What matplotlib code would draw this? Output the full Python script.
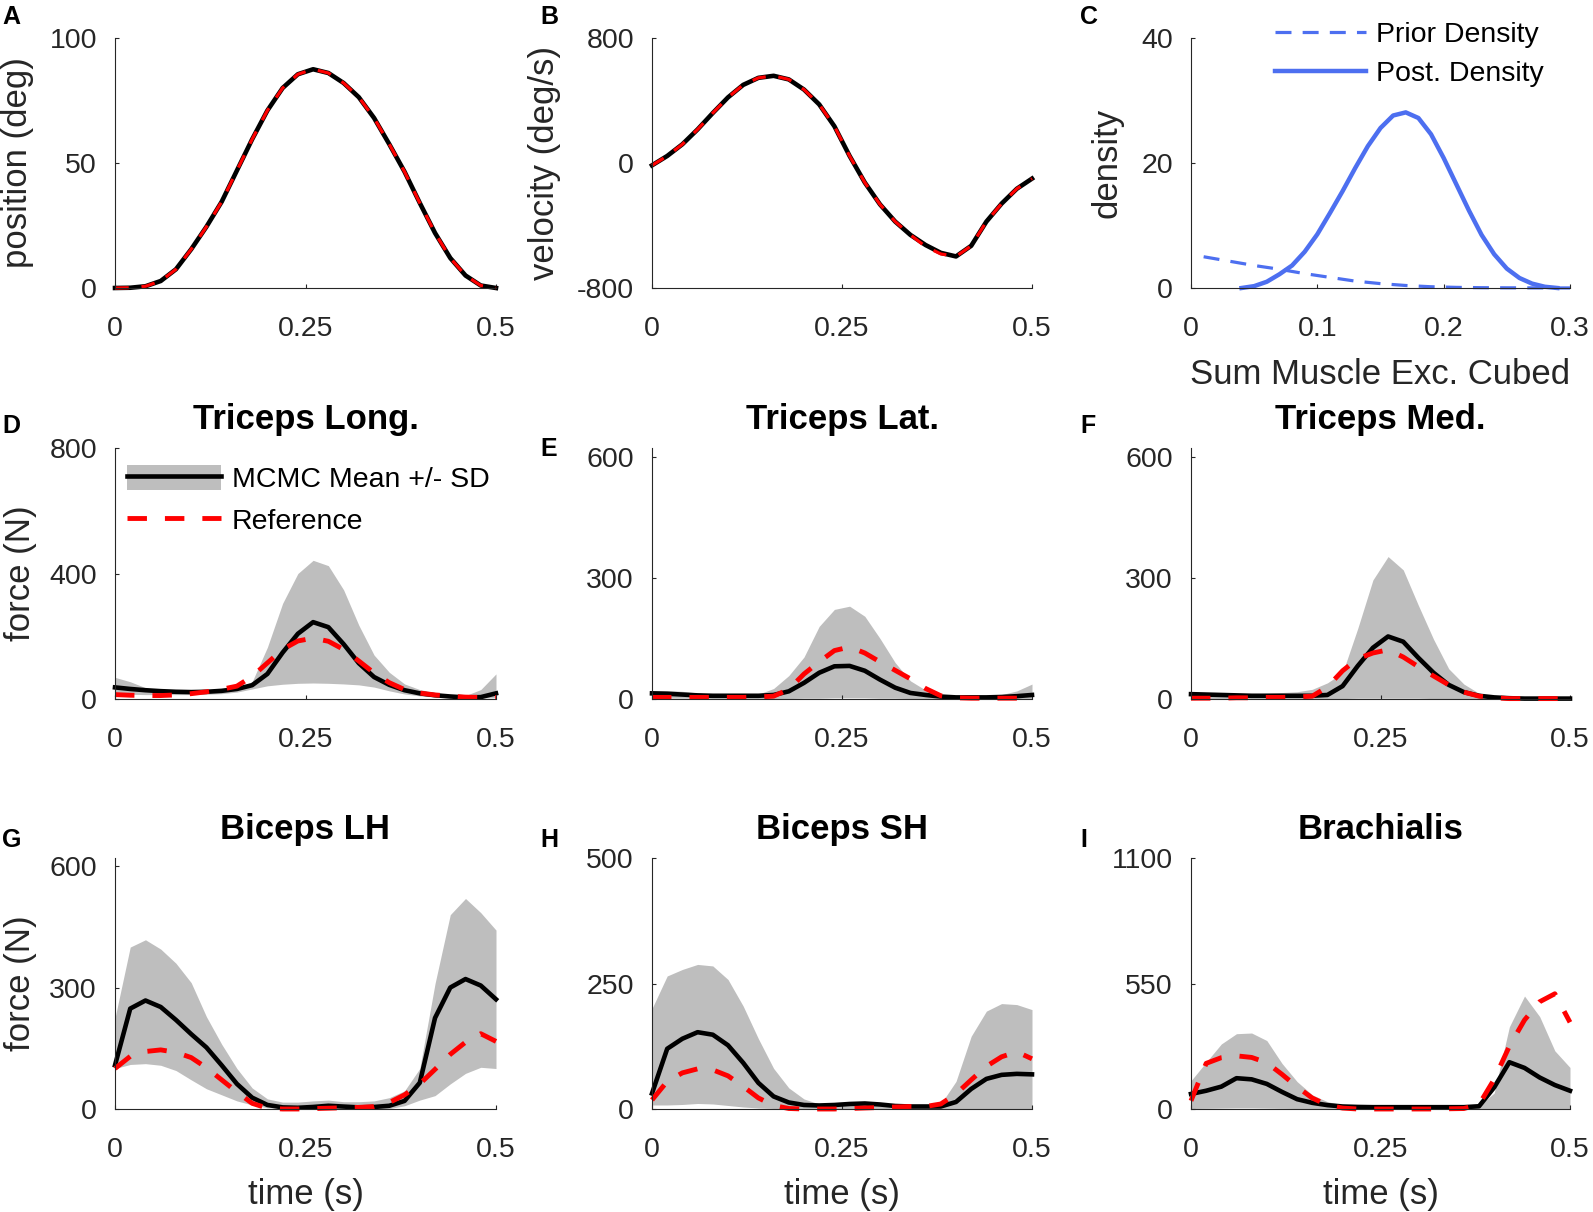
#!/usr/bin/env python3
"""
Recreates the MCMC muscle force figure: elbow kinematics, objective density
and the estimated muscle forces against the reference solution.
"""

import matplotlib
matplotlib.use("Agg")
import matplotlib.pyplot as plt
from matplotlib import ticker
from matplotlib.lines import Line2D
from matplotlib.patches import Patch
from matplotlib.legend_handler import HandlerTuple

# time samples shared by every time-series panel (s)
time_s = [0.00, 0.02, 0.04, 0.06, 0.08, 0.10, 0.12, 0.14, 0.16, 0.18, 0.20, 0.22, 0.24,
          0.26, 0.28, 0.30, 0.32, 0.34, 0.36, 0.38, 0.40, 0.42, 0.44, 0.46, 0.48, 0.50]

# A: position (deg)
position_mcmc = [0, 0.1, 0.7, 2.8, 7.5, 15.5, 24.5, 34.5, 47, 59.5, 71, 80, 85.5,
                 87.5, 86, 82, 76.3, 68, 57.5, 46.5, 34, 22, 12, 5, 1, 0]
position_ref = [0, 0.1, 0.7, 2.8, 7.5, 15.5, 24.5, 34.5, 47, 59.5, 71, 80, 85.5,
                87.5, 86, 82, 76.3, 68, 57.5, 46.5, 34, 22, 12, 5, 1, 0]

# B: velocity (deg/s)
velocity_mcmc = [-15, 45, 120, 215, 320, 420, 500, 545, 558, 535, 470, 375, 235,
                 45, -125, -265, -375, -460, -525, -575, -598, -530, -375, -260, -165, -100]
velocity_ref = [-15, 45, 120, 215, 320, 420, 500, 545, 558, 535, 470, 375, 235,
                45, -125, -265, -375, -460, -535, -582, -598, -530, -375, -260, -165, -100]

# C: densities of the summed cubed muscle excitation
post_x = [0.04, 0.05, 0.06, 0.07, 0.08, 0.09, 0.10, 0.11, 0.12, 0.13, 0.14, 0.15, 0.16,
          0.17, 0.18, 0.19, 0.20, 0.21, 0.22, 0.23, 0.24, 0.25, 0.26, 0.27, 0.28, 0.29]
post_density = [0, 0.3, 1.0, 2.2, 3.6, 5.8, 8.6, 12, 15.5, 19.2, 22.7, 25.6, 27.6,
                28.1, 27.2, 24.6, 20.8, 16.6, 12.4, 8.5, 5.4, 3.1, 1.6, 0.7, 0.2, 0]
prior_x = [0.01, 0.03, 0.05, 0.07, 0.09, 0.11, 0.13, 0.15, 0.17, 0.19, 0.21, 0.23,
           0.25, 0.27, 0.29, 0.30]
prior_density = [5.0, 4.3, 3.6, 3.0, 2.3, 1.7, 1.1, 0.7, 0.4, 0.2, 0.1, 0.05,
                 0.03, 0.02, 0.01, 0.01]

# D: Triceps Long. (N)
tlong_mean = [37, 32, 28, 25, 23, 22, 23, 26, 32, 44, 80, 148, 208,
              245, 229, 175, 114, 70, 45, 28, 18, 12, 8, 5, 6, 18]
tlong_ref = [14, 12, 11, 11, 13, 17, 23, 31, 41, 72, 115, 158, 185,
             194, 184, 158, 121, 83, 52, 30, 19, 13, 9, 6, 5, 5]
tlong_upper = [69, 55, 36, 27, 24, 24, 25, 28, 35, 55, 165, 305, 400,
               442, 425, 348, 235, 140, 85, 48, 30, 20, 14, 11, 30, 80]
tlong_lower = [16, 15, 14, 14, 14, 14, 15, 17, 22, 32, 42, 47, 50,
               51, 50, 48, 45, 38, 26, 16, 10, 6, 4, 3, 3, 4]

# E: Triceps Lat. (N)
tlat_mean = [14, 13, 11, 9, 8, 8, 8, 8, 10, 19, 40, 65, 81,
             82, 70, 48, 28, 15, 10, 6, 4, 4, 4, 5, 7, 10]
tlat_ref = [4, 4, 4, 4, 4, 4, 4, 5, 7, 24, 62, 92, 120,
            129, 114, 92, 71, 50, 26, 8, 3, 2, 2, 2, 2, 2]
tlat_upper = [21, 21, 19, 15, 11, 9, 8, 12, 26, 58, 104, 180, 222,
              230, 205, 150, 90, 45, 22, 12, 8, 7, 8, 11, 20, 37]
tlat_lower = [2, 2, 2, 2, 1, 1, 1, 1, 1, 1, 2, 2, 3,
              3, 3, 2, 2, 1, 1, 1, 1, 1, 1, 1, 1, 1]

# F: Triceps Med. (N)
tmed_mean = [12, 11, 10, 9, 8, 8, 8, 8, 8, 10, 32, 82, 127,
             155, 142, 102, 65, 35, 17, 8, 4, 2, 1, 1, 1, 1]
tmed_ref = [2, 2, 2, 3, 3, 4, 4, 5, 7, 30, 70, 100, 114,
            122, 104, 80, 57, 35, 17, 7, 3, 1, 1, 1, 1, 1]
tmed_upper = [12, 12, 12, 12, 13, 14, 16, 18, 24, 40, 65, 175, 295,
              353, 320, 232, 148, 75, 37, 14, 6, 3, 1, 1, 1, 1]
tmed_lower = [1, 1, 1, 1, 1, 1, 1, 1, 1, 1, 1, 2, 2,
              2, 2, 2, 1, 1, 1, 1, 1, 0, 0, 0, 0, 0]

# G: Biceps LH (N)
blh_mean = [108, 248, 268, 252, 220, 185, 152, 108, 62, 28, 10, 4, 3,
            5, 8, 6, 4, 5, 8, 20, 65, 225, 300, 321, 305, 271]
blh_ref = [100, 130, 142, 146, 140, 127, 102, 72, 42, 14, 2, 0, 0,
           1, 2, 3, 4, 6, 16, 35, 62, 98, 135, 165, 186, 167]
blh_upper = [225, 400, 418, 395, 360, 312, 228, 160, 100, 52, 25, 17, 17,
             20, 22, 18, 18, 20, 28, 45, 100, 310, 480, 520, 485, 442]
blh_lower = [100, 110, 112, 108, 95, 72, 50, 35, 20, 10, 3, 1, 1,
             1, 1, 1, 1, 1, 1, 8, 22, 33, 62, 88, 103, 100]

# H: Biceps SH (N)
bsh_mean = [31, 120, 140, 153, 148, 127, 92, 52, 25, 13, 8, 7, 8,
            10, 11, 9, 6, 5, 5, 5, 14, 40, 60, 68, 70, 69]
bsh_ref = [18, 55, 72, 80, 78, 66, 45, 22, 7, 1, 0, 0, 0,
           1, 2, 3, 4, 5, 5, 10, 30, 58, 85, 104, 114, 100]
bsh_upper = [200, 265, 278, 288, 285, 258, 205, 140, 81, 42, 20, 10, 8,
             9, 11, 10, 8, 7, 7, 10, 55, 145, 195, 210, 208, 198]
bsh_lower = [8, 8, 9, 11, 10, 7, 4, 2, 1, 0, 0, 0, 0,
             0, 0, 0, 0, 0, 0, 0, 0, 0, 0, 0, 0, 0]

# I: Brachialis (N)
brach_mean = [66, 80, 98, 135, 130, 110, 75, 43, 27, 17, 11, 9, 8,
              8, 8, 8, 8, 8, 8, 12, 95, 205, 180, 138, 105, 80]
brach_ref = [36, 200, 225, 233, 226, 203, 152, 97, 48, 17, 4, 0, 0,
             0, 0, 0, 0, 1, 2, 20, 130, 275, 390, 470, 505, 380]
brach_upper = [124, 205, 285, 330, 333, 300, 200, 120, 62, 32, 18, 14, 12,
               12, 12, 12, 12, 12, 12, 15, 70, 360, 495, 405, 255, 182]
brach_lower = [2, 3, 4, 5, 5, 4, 3, 2, 1, 1, 0, 0, 0,
               0, 0, 0, 0, 0, 0, 0, 0, 0, 0, 0, 0, 0]

AXIS_GRAY = "#262626"
BAND_GRAY = "#bebebe"
BLUE = "#4d6ff0"
W, H = 1593.0, 1212.0

plt.rcParams["font.family"] = ["Liberation Sans", "DejaVu Sans"]
plt.rcParams["axes.unicode_minus"] = False
plt.rcParams["lines.solid_joinstyle"] = "round"
plt.rcParams["lines.dash_joinstyle"] = "round"

fig = plt.figure(figsize=(W / 100, H / 100), dpi=100)


def add_axes(left, top, width, height):
    """Add axes given in pixel coordinates measured from the top-left corner."""
    return fig.add_axes([left / W, 1 - (top + height) / H, width / W, height / H])


def style_axes(ax, xlim, ylim, xticks, yticks):
    """MATLAB-like look: box off, inward ticks, grey labels."""
    for side in ("top", "right"):
        ax.spines[side].set_visible(False)
    for side in ("left", "bottom"):
        ax.spines[side].set_color(AXIS_GRAY)
        ax.spines[side].set_linewidth(0.8)
    ax.tick_params(direction="in", length=3, width=0.8, colors=AXIS_GRAY, labelsize=20.5)
    ax.tick_params(axis="x", pad=20)
    ax.tick_params(axis="y", pad=13)
    ax.set_xlim(*xlim)
    ax.set_ylim(*ylim)
    ax.set_xticks(xticks)
    ax.set_yticks(yticks)
    ax.xaxis.set_major_formatter(ticker.FormatStrFormatter("%g"))
    ax.yaxis.set_major_formatter(ticker.FormatStrFormatter("%g"))


def set_ylabel(ax, text, xpos):
    ax.set_ylabel(text, fontsize=25, color=AXIS_GRAY)
    ax.yaxis.set_label_coords(xpos, 0.5)


def set_xlabel(ax, text, ypos):
    ax.set_xlabel(text, fontsize=25, color=AXIS_GRAY)
    ax.xaxis.set_label_coords(0.5, ypos)


def draw_force(ax, mean, ref, upper, lower, ylim, yticks, title):
    """Grey SD band, black MCMC mean and red dashed reference."""
    ax.fill_between(time_s, lower, upper, color=BAND_GRAY, linewidth=0)
    ax.plot(time_s, mean, color="black", lw=3.3, clip_on=False)
    ax.plot(time_s, ref, color="red", lw=3.5, dashes=(4, 3.7), clip_on=False)
    style_axes(ax, (0, 0.5), ylim, [0, 0.25, 0.5], yticks)
    ax.set_title(title, fontsize=25, fontweight="bold", pad=14)


col_left = [115, 652, 1191]
col_width = [381, 380, 379]
row_top = [38, 448, 858]
row_height = [250, 251, 251]

axes = [[add_axes(col_left[c], row_top[r], col_width[c], row_height[r]) for c in range(3)]
        for r in range(3)]

# A: position
ax = axes[0][0]
ax.plot(time_s, position_mcmc, color="black", lw=3.3, clip_on=False)
ax.plot(time_s, position_ref, color="red", lw=2.3, dashes=(4.3, 4), clip_on=False)
style_axes(ax, (0, 0.5), (0, 100), [0, 0.25, 0.5], [0, 50, 100])
set_ylabel(ax, "position (deg)", -0.212)

# B: velocity
ax = axes[0][1]
ax.plot(time_s, velocity_mcmc, color="black", lw=3.3, clip_on=False)
ax.plot(time_s, velocity_ref, color="red", lw=2.3, dashes=(4.3, 4), clip_on=False)
style_axes(ax, (0, 0.5), (-800, 800), [0, 0.25, 0.5], [-800, 0, 800])
set_ylabel(ax, "velocity (deg/s)", -0.239)

# C: prior / posterior density
ax = axes[0][2]
prior_line, = ax.plot(prior_x, prior_density, color=BLUE, lw=2.3, dashes=(5, 3.5),
                      clip_on=False)
post_line, = ax.plot(post_x, post_density, color=BLUE, lw=3.2, clip_on=False)
style_axes(ax, (0, 0.3), (0, 40), [0, 0.1, 0.2, 0.3], [0, 20, 40])
set_ylabel(ax, "density", -0.179)
set_xlabel(ax, "Sum Muscle Exc. Cubed", -0.28)
ax.legend([prior_line, post_line], ["Prior Density", "Post. Density"],
          loc="upper left", bbox_to_anchor=(1275 / W, 1 - 21.5 / H),
          bbox_transform=fig.transFigure, frameon=False, fontsize=20.5,
          borderpad=0, borderaxespad=0, handlelength=3.2, handletextpad=0.35,
          labelspacing=0.47)

# D-I: muscle forces
draw_force(axes[1][0], tlong_mean, tlong_ref, tlong_upper, tlong_lower,
           (0, 800), [0, 400, 800], "Triceps Long.")
draw_force(axes[1][1], tlat_mean, tlat_ref, tlat_upper, tlat_lower,
           (0, 622), [0, 300, 600], "Triceps Lat.")
draw_force(axes[1][2], tmed_mean, tmed_ref, tmed_upper, tmed_lower,
           (0, 622), [0, 300, 600], "Triceps Med.")
draw_force(axes[2][0], blh_mean, blh_ref, blh_upper, blh_lower,
           (0, 620), [0, 300, 600], "Biceps LH")
draw_force(axes[2][1], bsh_mean, bsh_ref, bsh_upper, bsh_lower,
           (0, 500), [0, 250, 500], "Biceps SH")
draw_force(axes[2][2], brach_mean, brach_ref, brach_upper, brach_lower,
           (0, 1100), [0, 550, 1100], "Brachialis")

set_ylabel(axes[1][0], "force (N)", -0.205)
set_ylabel(axes[2][0], "force (N)", -0.205)
for ax in axes[2]:
    set_xlabel(ax, "time (s)", -0.275)

# legend for the force panels sits inside panel D
band_handle = (Patch(facecolor=BAND_GRAY, edgecolor="none"),
               Line2D([], [], color="black", lw=3.3))
ref_handle = Line2D([], [], color="red", lw=3.5, dashes=(4, 3.7))
axes[1][0].legend([band_handle, ref_handle], ["MCMC Mean +/- SD", "Reference"],
                  handler_map={tuple: HandlerTuple(ndivide=1, pad=0)},
                  loc="upper left", bbox_to_anchor=(127 / W, 1 - 465 / H),
                  bbox_transform=fig.transFigure, frameon=False, fontsize=20.5,
                  borderpad=0, borderaxespad=0, handlelength=3.3, handleheight=0.97,
                  handletextpad=0.38, labelspacing=0.47)

# panel letters
letters = [("A", 2, 5), ("B", 540, 5), ("C", 1080, 5),
           ("D", 2, 414), ("E", 540, 437), ("F", 1080, 414),
           ("G", 2, 828), ("H", 540, 828), ("I", 1080, 828)]
for letter, x, y in letters:
    fig.text(x / W, 1 - y / H, letter, fontsize=18, fontweight="bold",
             ha="left", va="top")

fig.savefig("out.png", dpi=100)
